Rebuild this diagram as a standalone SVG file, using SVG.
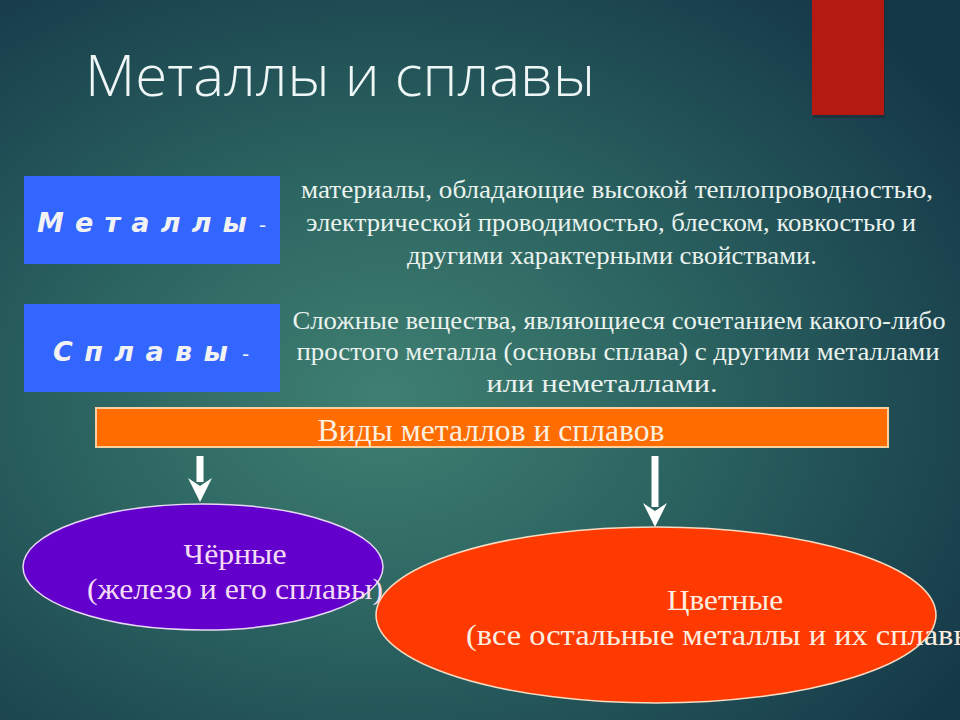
<svg xmlns="http://www.w3.org/2000/svg" width="960" height="720" viewBox="0 0 960 720">
<defs>
<radialGradient id="bg" cx="0.4" cy="0.55" r="0.72">
<stop offset="0" stop-color="#3f8072"/>
<stop offset="0.45" stop-color="#2b6360"/>
<stop offset="1" stop-color="#153849"/>
</radialGradient>
<style>
.title{font-family:"Open Sans","DejaVu Sans",sans-serif;font-weight:300;font-size:57px;fill:#eef6f6}
.lbl{font-family:"DejaVu Sans","Liberation Sans",sans-serif;font-weight:bold;font-style:italic;font-size:27px;fill:#f2f2f2}
.dash{font-family:"DejaVu Sans",sans-serif;font-size:20px;fill:#f2f2f2}
.desc{font-family:"Liberation Serif","Times New Roman",serif;font-size:26px;fill:#eaf2ee}
.box{fill:#3366ff}
.bar{fill:#ff6c00;stroke:#f8d0a0;stroke-width:2}
.bart{font-family:"Liberation Serif",serif;font-size:31px;fill:#fbf0e0}
.ell{font-family:"Liberation Serif",serif;font-size:30px}
.arr{fill:#ffffff}
</style>
</defs>
<rect width="960" height="720" fill="url(#bg)"/>
<g id="title">
<text class="title" x="85" y="96" textLength="510" lengthAdjust="spacingAndGlyphs">Металлы и сплавы</text>
</g>
<g id="redbar">
<rect x="813" y="2" width="72" height="116" fill="#1a2a30" opacity="0.6"/>
<rect x="812" y="0" width="72" height="115" fill="#b51a12"/>
</g>
<g id="metals">
<rect class="box" x="24" y="176" width="256" height="88"/>
<text class="lbl" x="37" y="232" textLength="210" lengthAdjust="spacing">М е т а л л ы</text>
<text class="dash" x="259" y="232">-</text>
</g>
<g id="metals-desc">
<text class="desc" x="617" y="198" text-anchor="middle" textLength="632" lengthAdjust="spacingAndGlyphs">материалы, обладающие высокой теплопроводностью,</text>
<text class="desc" x="611" y="231" text-anchor="middle" textLength="610" lengthAdjust="spacingAndGlyphs">электрической проводимостью, блеском, ковкостью и</text>
<text class="desc" x="612" y="264" text-anchor="middle" textLength="410" lengthAdjust="spacingAndGlyphs">другими характерными свойствами.</text>
</g>
<g id="alloys">
<rect class="box" x="24" y="304" width="256" height="88"/>
<text class="lbl" x="53" y="361" textLength="175" lengthAdjust="spacing">С п л а в ы</text>
<text class="dash" x="242" y="361">-</text>
</g>
<g id="alloys-desc">
<text class="desc" x="619" y="329" text-anchor="middle" textLength="653" lengthAdjust="spacingAndGlyphs">Сложные вещества, являющиеся сочетанием какого-либо</text>
<text class="desc" x="618" y="360" text-anchor="middle" textLength="643" lengthAdjust="spacingAndGlyphs">простого металла (основы сплава) с другими металлами</text>
<text class="desc" x="602" y="392" text-anchor="middle" textLength="231" lengthAdjust="spacingAndGlyphs">или неметаллами.</text>
</g>
<g id="types">
<rect class="bar" x="96" y="408" width="792" height="39"/>
<text class="bart" x="491" y="441" text-anchor="middle" textLength="347" lengthAdjust="spacingAndGlyphs">Виды металлов и сплавов</text>
</g>
<g id="connectors">
<rect class="arr" x="196.5" y="456" width="7" height="26"/>
<path class="arr" d="M188,478 L200,486 L212,478 L200,502 Z"/>
<rect class="arr" x="651.5" y="456" width="7" height="51"/>
<path class="arr" d="M643,503 L655,511 L667,503 L655,527 Z"/>
</g>
<g id="nonferrous">
<ellipse cx="656" cy="615" rx="280" ry="88" fill="#ff3a00" stroke="#f6dcc4" stroke-width="1.5"/>
<text class="ell" x="725" y="610" text-anchor="middle" fill="#fbeee0" textLength="116" lengthAdjust="spacingAndGlyphs">Цветные</text>
<text class="ell" x="466" y="645" fill="#fbeee0" textLength="520" lengthAdjust="spacingAndGlyphs">(все остальные металлы и их сплавы)</text>
</g>
<g id="ferrous">
<ellipse cx="203" cy="567" rx="180" ry="63" fill="#6400cc" stroke="#e8d8f4" stroke-width="1.5"/>
<text class="ell" x="235" y="564" text-anchor="middle" fill="#f4dcf4" textLength="103" lengthAdjust="spacingAndGlyphs">Чёрные</text>
<text class="ell" x="87" y="599" fill="#f4dcf4" textLength="296" lengthAdjust="spacingAndGlyphs">(железо и его сплавы)</text>
</g>
</svg>
